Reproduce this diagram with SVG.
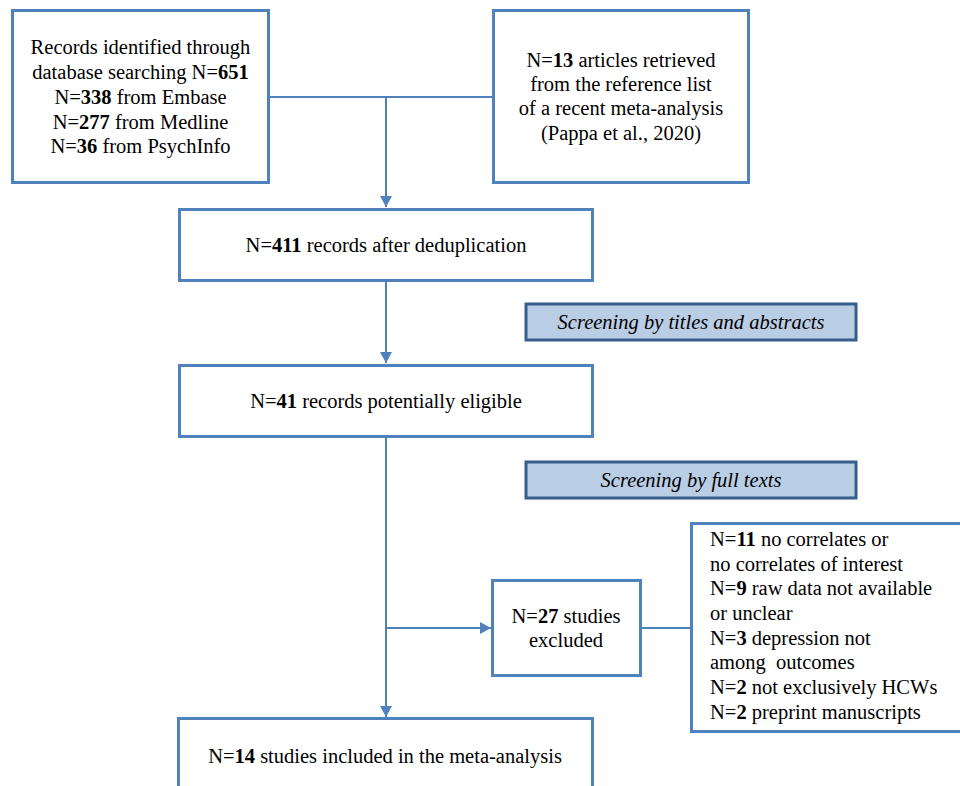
<svg xmlns="http://www.w3.org/2000/svg" width="960" height="786" viewBox="0 0 960 786">
<style>
.box{fill:#ffffff;stroke:#4f81bd;stroke-width:3}
.scr{fill:#b9cde5;stroke:#385d8a;stroke-width:3}
.t{font-family:"Liberation Serif","Times New Roman",serif;font-size:20.5px;fill:#000}
.c{text-anchor:middle}
.i{font-style:italic}
.b{font-weight:bold}
.ln{stroke:#4f81bd;stroke-width:2;fill:none}
</style>
<defs>
<marker id="ah" markerUnits="userSpaceOnUse" markerWidth="11" markerHeight="12" viewBox="0 0 11 12" refX="11" refY="6" orient="auto">
<path d="M0,0 L11,6 L0,12 z" fill="#4f81bd"/>
</marker>
</defs>
<rect width="960" height="786" fill="#ffffff"/>
<g id="connectors">
<line class="ln" x1="269" y1="97" x2="493" y2="97"/>
<line class="ln" x1="386" y1="97" x2="386" y2="207" marker-end="url(#ah)"/>
<line class="ln" x1="386" y1="281" x2="386" y2="363" marker-end="url(#ah)"/>
<line class="ln" x1="386" y1="437" x2="386" y2="717" marker-end="url(#ah)"/>
<line class="ln" x1="386" y1="628" x2="491" y2="628" marker-end="url(#ah)"/>
<line class="ln" x1="641" y1="628" x2="690" y2="628"/>
</g>
<g id="db">
<rect class="box" x="12.5" y="10.5" width="256" height="172"/>
<text class="t c" x="140.5" y="54">Records identified through</text>
<text class="t c" x="140.5" y="79">database searching N=<tspan class="b">651</tspan></text>
<text class="t c" x="140.5" y="104">N=<tspan class="b">338</tspan> from Embase</text>
<text class="t c" x="140.5" y="129">N=<tspan class="b">277</tspan> from Medline</text>
<text class="t c" x="140.5" y="153">N=<tspan class="b">36</tspan> from PsychInfo</text>
</g>
<g id="ref">
<rect class="box" x="493.5" y="10.5" width="255" height="172"/>
<text class="t c" x="621" y="67">N=<tspan class="b">13</tspan> articles retrieved</text>
<text class="t c" x="621" y="91">from the reference list</text>
<text class="t c" x="621" y="115">of a recent meta-analysis</text>
<text class="t c" x="621" y="140">(Pappa et al., 2020)</text>
</g>
<g id="dedup">
<rect class="box" x="179.5" y="209.5" width="413" height="71"/>
<text class="t c" x="386" y="252">N=<tspan class="b">411</tspan> records after deduplication</text>
</g>
<g id="screen1">
<rect class="scr" x="526" y="304" width="330" height="36"/>
<text class="t c i" x="691" y="329">Screening by titles and abstracts</text>
</g>
<g id="eligible">
<rect class="box" x="179.5" y="365.5" width="413" height="71"/>
<text class="t c" x="386" y="408">N=<tspan class="b">41</tspan> records potentially eligible</text>
</g>
<g id="screen2">
<rect class="scr" x="526" y="462" width="330" height="36"/>
<text class="t c i" x="691" y="487">Screening by full texts</text>
</g>
<g id="excluded">
<rect class="box" x="492.5" y="580.5" width="148" height="95"/>
<text class="t c" x="566" y="623">N=<tspan class="b">27</tspan> studies</text>
<text class="t c" x="566" y="647">excluded</text>
</g>
<g id="reasons">
<rect class="box" x="691.5" y="523.5" width="290" height="208"/>
<text class="t" x="710" y="546">N=<tspan class="b">11</tspan> no correlates or</text>
<text class="t" x="710" y="571">no correlates of interest</text>
<text class="t" x="710" y="595">N=<tspan class="b">9</tspan> raw data not available</text>
<text class="t" x="710" y="620">or unclear</text>
<text class="t" x="710" y="645">N=<tspan class="b">3</tspan> depression not</text>
<text class="t" x="710" y="669" xml:space="preserve">among  outcomes</text>
<text class="t" x="710" y="694">N=<tspan class="b">2</tspan> not exclusively HCWs</text>
<text class="t" x="710" y="719">N=<tspan class="b">2</tspan> preprint manuscripts</text>
</g>
<g id="included">
<rect class="box" x="178.5" y="718.5" width="414" height="100"/>
<text class="t c" x="385" y="763">N=<tspan class="b">14</tspan> studies included in the meta-analysis</text>
</g>
</svg>
